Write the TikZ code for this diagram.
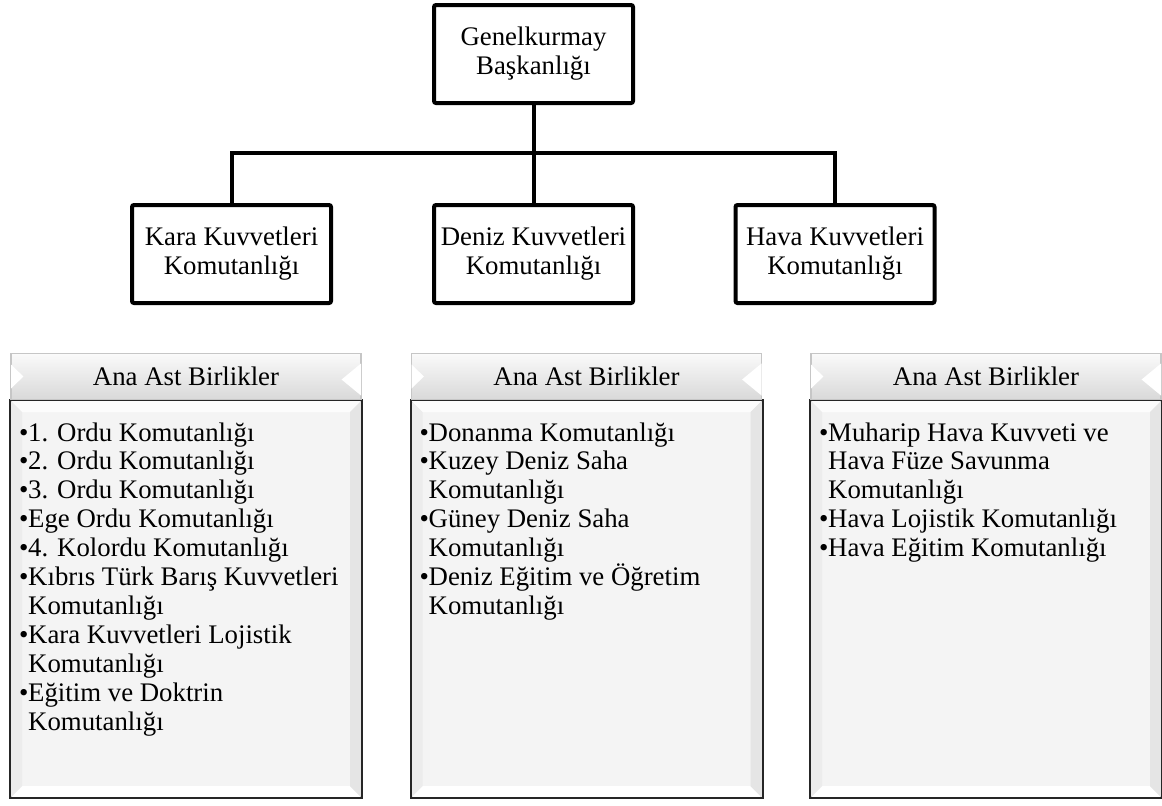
\documentclass[tikz,border=0pt]{standalone}
\usepackage{fontspec}
\setmainfont{Liberation Serif}
\usetikzlibrary{calc,shadows}

\newcommand{\madde}{\makebox[4.6pt][l]{\textbullet}}
\newcommand{\devam}{\hspace*{4.6pt}}

\begin{document}
\begin{tikzpicture}[x=0.5pt,y=-0.5pt,
  font={\fontsize{13.4}{14.45}\selectfont},
  birim/.style={draw,line width=2pt,rounded corners=1pt,minimum width=99.5pt,
    minimum height=49pt,align=center,inner sep=0pt},
  hat/.style={line width=2pt},
  baslik/.style={draw=gray!45,line width=0.6pt,top color=gray!4,bottom color=gray!30,
    minimum width=175pt,minimum height=23pt,inner sep=0pt},
  govde/.style={draw=black!85,line width=1pt,fill=gray!9,minimum width=175pt,
    minimum height=198pt,inner sep=0pt,
    drop shadow={shadow xshift=0.6pt,shadow yshift=-1pt,opacity=0.35}},
  liste/.style={anchor=north west,align=left,inner sep=0pt}]
  \useasboundingbox (0,0) rectangle (1162,805);

  % kurmay ve kuvvet komutanliklari
  \node[birim] (gk)    at (533.5,54)  {Genelkurmay\\Başkanlığı};
  \node[birim] (kara)  at (231.5,254) {Kara Kuvvetleri\\Komutanlığı};
  \node[birim] (deniz) at (533.5,254) {Deniz Kuvvetleri\\Komutanlığı};
  \node[birim] (hava)  at (835,254)   {Hava Kuvvetleri\\Komutanlığı};

  \coordinate (bar) at (533.5,153);
  \draw[hat] (gk) -- (deniz);
  \draw[hat] (kara) |- (bar) -| (hava);

  % ana ast birlikler
  \foreach \n/\cx in {k/186,d/586.5,h/986} {
    \node[govde] (govde-\n) at (\cx,599) {};
    \fill[white] (govde-\n.south west) -- (govde-\n.south east)
      -- ($(govde-\n.south east)+(-6pt,6pt)$) -- ($(govde-\n.south west)+(6pt,6pt)$) -- cycle;
    \fill[white!70!gray!9] (govde-\n.north west) -- (govde-\n.north east)
      -- ($(govde-\n.north east)+(-6pt,-6pt)$) -- ($(govde-\n.north west)+(6pt,-6pt)$) -- cycle;
    \fill[gray!20] (govde-\n.north east) -- (govde-\n.south east)
      -- ($(govde-\n.south east)+(-6pt,6pt)$) -- ($(govde-\n.north east)+(-6pt,-6pt)$) -- cycle;
    \fill[gray!15] (govde-\n.north west) -- (govde-\n.south west)
      -- ($(govde-\n.south west)+(6pt,6pt)$) -- ($(govde-\n.north west)+(6pt,-6pt)$) -- cycle;
    \draw[black!85,line width=1pt] (govde-\n.north west) rectangle (govde-\n.south east);
    \node[baslik] (baslik-\n) at (\cx,376.5) {Ana Ast Birlikler};
    \fill[white] ($(baslik-\n.west)+(0.3pt,6pt)$) -- ($(baslik-\n.west)+(6.5pt,0)$)
      -- ($(baslik-\n.west)+(0.3pt,-6pt)$) -- cycle;
    \fill[white] ($(baslik-\n.east)+(-0.3pt,6.5pt)$) -- ($(baslik-\n.east)+(-10pt,-1.5pt)$)
      -- ($(baslik-\n.east)+(-0.3pt,-9.5pt)$) -- cycle;
  }

  \node[liste] (liste-k) at ($(govde-k.north west)+(4.3pt,-11pt)$) {%
    \madde 1. Ordu Komutanlığı\\
    \madde 2. Ordu Komutanlığı\\
    \madde 3. Ordu Komutanlığı\\
    \madde Ege Ordu Komutanlığı\\
    \madde 4. Kolordu Komutanlığı\\
    \madde Kıbrıs Türk Barış Kuvvetleri\\
    \devam Komutanlığı\\
    \madde Kara Kuvvetleri Lojistik\\
    \devam Komutanlığı\\
    \madde Eğitim ve Doktrin\\
    \devam Komutanlığı};
  \node[liste] (liste-d) at ($(govde-d.north west)+(4.3pt,-11pt)$) {%
    \madde Donanma Komutanlığı\\
    \madde Kuzey Deniz Saha\\
    \devam Komutanlığı\\
    \madde Güney Deniz Saha\\
    \devam Komutanlığı\\
    \madde Deniz Eğitim ve Öğretim\\
    \devam Komutanlığı};
  \node[liste] (liste-h) at ($(govde-h.north west)+(4.3pt,-11pt)$) {%
    \madde Muharip Hava Kuvveti ve\\
    \devam Hava Füze Savunma\\
    \devam Komutanlığı\\
    \madde Hava Lojistik Komutanlığı\\
    \madde Hava Eğitim Komutanlığı};
\end{tikzpicture}
\end{document}
